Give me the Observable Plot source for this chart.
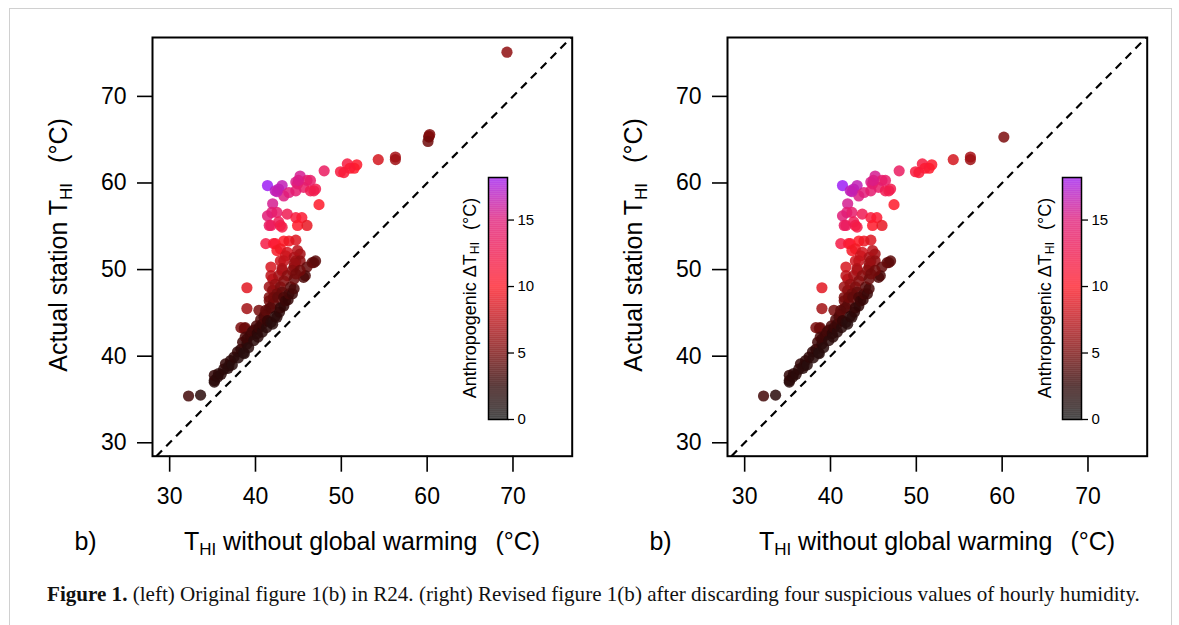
<!DOCTYPE html>
<html><head><meta charset="utf-8">
<script src="https://cdn.jsdelivr.net/npm/d3@7"></script>
<script src="https://cdn.jsdelivr.net/npm/@observablehq/plot@0.6"></script>
<style>
body{margin:0;background:#fff;}
#root{position:relative;width:1179px;height:625px;overflow:hidden;background:#fff;}
#border{position:absolute;left:9px;top:8px;width:1161px;height:700px;border:1px solid #d0d0d0;}
.abs{position:absolute;}
#caption{position:absolute;left:47px;top:582px;font-family:"Liberation Serif","Times New Roman",serif;font-size:18px;white-space:nowrap;color:#111;}
</style></head>
<body><div id="root"><div id="border"></div><div id="caption"><b>Figure 1.</b> (left) Original figure 1(b) in R24. (right) Revised figure 1(b) after discarding four suspicious values of hourly humidity.</div></div>
<script>
// ---- data: T_HI without global warming (x) and actual station T_HI (y), °C ----
const commonX = [
  60.2, 56.3, 56.3, 54.3, 51.8, 51.5, 50.7, 51.0, 49.9, 50.3, 48.0,
  41.4, 42.3, 42.7, 43.1, 43.3, 43.9, 42.5, 44.7, 44.9, 45.2, 45.6, 46.0, 46.4, 46.8, 47.0, 44.7, 46.4, 45.0,
  42.0, 41.9, 41.4, 42.5, 41.6, 41.8, 42.7, 42.9, 43.1, 43.7, 44.7, 45.4, 44.9, 46.0, 47.4,
  41.2, 42.1, 42.3, 43.3, 43.9, 44.7, 42.5, 42.9, 43.7, 44.9, 45.2, 43.5, 44.5, 42.9, 43.3, 44.7, 45.2, 41.8, 43.1, 44.5, 44.5,
  42.0, 41.8, 42.7, 43.1, 41.6,
  46.8, 46.6, 47.0, 46.0, 45.8, 45.6,
  39.0, 39.0, 38.8, 38.3, 38.7, 40.4, 41.6,
  32.2, 33.6,
  35.2, 35.2, 35.2, 35.6, 35.7, 36.0, 36.3, 36.5, 36.8, 36.9, 37.1, 37.3, 37.5, 37.9, 38.0, 38.3, 38.5, 38.6, 38.7, 38.8,
  39.0, 39.0, 39.2, 39.4, 39.6, 39.8, 39.8, 40.1, 40.2, 40.3, 40.4, 40.6, 40.8, 40.8, 41.0, 41.1, 41.2, 41.3, 41.4, 41.6,
  41.6, 41.8, 41.8, 42.0, 42.0, 42.1, 42.1, 42.3, 42.3, 42.5, 42.5, 42.6, 42.8, 42.9, 42.9, 43.1, 43.3, 43.3, 43.3, 43.5,
  43.7, 43.8, 43.9, 44.1, 44.3, 44.3, 44.5, 44.5, 44.7, 45.2
];
const commonY = [
  65.3, 63.0, 62.7, 62.7, 62.1, 61.7, 62.2, 61.7, 61.3, 61.2, 61.4,
  59.7, 59.1, 59.3, 59.7, 58.5, 58.9, 59.0, 60.1, 59.9, 60.8, 59.5, 60.3, 59.1, 59.1, 59.3, 59.1, 60.3, 60.3,
  57.6, 56.6, 56.2, 56.6, 55.1, 55.1, 55.5, 55.1, 54.9, 56.4, 56.0, 56.0, 55.1, 55.1, 57.5,
  53.0, 53.0, 53.0, 53.3, 53.3, 53.4, 52.2, 52.4, 52.0, 52.2, 51.8, 51.6, 51.4, 51.0, 51.0, 51.0, 51.0, 50.3, 50.1, 50.3, 50.7,
  48.9, 49.3, 49.3, 49.9, 48.0,
  50.8, 50.8, 51.0, 50.3, 49.3, 49.1,
  47.9, 45.5, 43.3, 43.3, 43.2, 45.3, 46.8,
  35.4, 35.5,
  37.0, 37.2, 37.8, 37.6, 38.0, 37.9, 38.5, 39.1, 38.6, 38.9, 39.5, 39.0, 39.9, 40.5, 39.8, 40.8, 41.6, 40.4, 40.3, 42.2,
  41.4, 42.0, 41.0, 42.4, 42.8, 41.8, 43.0, 43.5, 42.6, 42.2, 43.3, 44.2, 42.8, 43.7, 44.5, 44.8, 45.3, 43.3, 44.1, 45.5,
  46.4, 43.9, 45.6, 43.7, 47.6, 46.1, 46.8, 44.6, 48.3, 44.5, 47.2, 46.8, 45.1, 45.6, 48.0, 47.4, 45.8, 46.8, 48.7, 46.4,
  49.3, 46.5, 47.2, 48.0, 47.2, 49.9, 47.8, 48.9, 49.5, 49.9
];
// the four suspicious values only present in the original (left) figure
const suspectX = [69.3, 60.3, 60.2, 60.1];
const suspectY = [75.1, 65.6, 65.4, 64.8];

const xDomain = [28.0, 76.9];
const yDomain = [28.45, 76.8];
const xTicks = [30, 40, 50, 60, 70];
const yTicks = [30, 40, 50, 60, 70];
const cbTicks = [0, 5, 10, 15];
const cbMax = 18.2;
const colorDomain = [0, 2.5, 5, 10, 15, cbMax];
const colorRange = ["#1c1c1c", "#2e0606", "#7a0c0c", "#ff1a28", "#e01c7a", "#a020f0"];

const FONT = '"Liberation Sans", Arial, Helvetica, sans-serif';
const colorOpt = {type: "linear", domain: colorDomain, range: colorRange, interpolate: "rgb"};

function subText(sel, parts) {
  parts.forEach(([t, sub, dx]) => {
    const ts = sel.append("tspan").text(t);
    if (sub) ts.attr("font-size", "0.68em").attr("dy", "0.28em");
    else if (sel.node()._lastSub) ts.attr("dy", "-0.19em");
    if (dx) ts.attr("dx", dx);
    sel.node()._lastSub = !!sub;
  });
}

function makePanel(xs, ys, left) {
  const data = xs.map((x, i) => ({x, y: ys[i]}));
  const lo = Math.max(xDomain[0], yDomain[0]), hi = Math.min(xDomain[1], yDomain[1]);
  const svg = Plot.plot({
    width: 580, height: 560,
    marginLeft: 152, marginRight: 8.3, marginTop: 37, marginBottom: 104.3,
    style: {fontFamily: FONT, background: "transparent", color: "#000", overflow: "visible"},
    x: {domain: xDomain, label: null},
    y: {domain: yDomain, label: null},
    color: colorOpt,
    marks: [
      Plot.link([{a: lo, b: hi}], {x1: "a", y1: "a", x2: "b", y2: "b", stroke: "#000", strokeWidth: 2.2, strokeDasharray: "8,6"}),
      Plot.dot(data, {x: "x", y: "y", r: 5.6, fill: d => d.y - d.x, fillOpacity: 0.85}),
      Plot.frame({stroke: "#000", strokeWidth: 2}),
      Plot.axisX({ticks: xTicks, tickSize: 16, tickPadding: 15, fontSize: 23, strokeWidth: 1.6, tickFormat: d => d, label: null}),
      Plot.axisY({ticks: yTicks, tickSize: 15, tickPadding: 11, fontSize: 23, strokeWidth: 1.6, tickFormat: d => d, label: null})
    ]
  });
  svg.classList.add("abs");
  svg.style.left = left + "px";
  svg.style.top = "0px";
  const s = d3.select(svg);
  const yt = s.append("text").attr("transform", "translate(67,245) rotate(-90)")
    .attr("text-anchor", "middle").attr("font-size", 25).attr("fill", "#000").attr("font-family", FONT);
  subText(yt, [["Actual station T"], ["HI", true], ["(°C)", false, 20]]);
  const xt = s.append("text").attr("x", 362).attr("y", 550)
    .attr("text-anchor", "middle").attr("font-size", 25).attr("fill", "#000").attr("font-family", FONT);
  subText(xt, [["T"], ["HI", true], [" without global warming"], ["(°C)", false, 18]]);
  s.append("text").attr("x", 85.5).attr("y", 550).attr("text-anchor", "middle")
    .attr("font-size", 25).attr("fill", "#000").attr("font-family", FONT).text("b)");
  const ct = s.append("text").attr("transform", "translate(476,298) rotate(-90)")
    .attr("text-anchor", "middle").attr("font-size", 18).attr("fill", "#000").attr("font-family", FONT);
  subText(ct, [["Anthropogenic ΔT"], ["HI", true], ["(°C)", false, 12]]);
  document.getElementById("root").appendChild(svg);

  // colour bar
  const step = 0.05;
  const cells = d3.range(0, cbMax, step);
  const cb = Plot.plot({
    width: 100, height: 282, marginLeft: 40, marginRight: 41, marginTop: 10, marginBottom: 30,
    style: {fontFamily: FONT, background: "transparent", color: "#000", overflow: "visible"},
    y: {domain: [0, cbMax], label: null},
    color: colorOpt,
    marks: [
      Plot.rect(cells, {y1: d => d, y2: d => Math.min(d + step + 0.01, cbMax), fill: d => d + step / 2, fillOpacity: 0.85}),
      Plot.frame({stroke: "#000", strokeWidth: 1.5}),
      Plot.axisY({anchor: "right", ticks: cbTicks, tickSize: 6, tickPadding: 4, fontSize: 15, strokeWidth: 1.3, tickFormat: d => d, label: null})
    ]
  });
  cb.classList.add("abs");
  cb.style.left = (left + 447.7) + "px";
  cb.style.top = "167.3px";
  document.getElementById("root").appendChild(cb);
}

makePanel(commonX.concat(suspectX), commonY.concat(suspectY), 0);
makePanel(commonX, commonY, 574.5);

// fit caption to the reference width
const cap = document.getElementById("caption");
const w = cap.getBoundingClientRect().width;
cap.style.fontSize = (18 * 1093 / w).toFixed(2) + "px";
</script>
</body></html>
